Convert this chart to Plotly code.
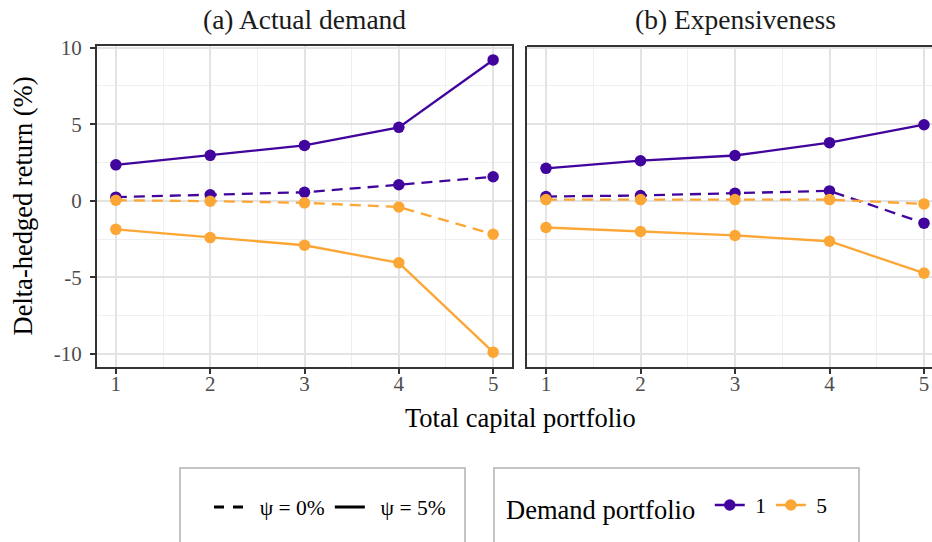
import plotly.graph_objects as go

# ---- data ----
capital = [1, 2, 3, 4, 5]
# Panel (a) Actual demand
a_d1_psi5 = [2.35, 2.97, 3.62, 4.80, 9.20]
a_d1_psi0 = [0.24, 0.39, 0.56, 1.05, 1.57]
a_d5_psi0 = [0.04, -0.02, -0.13, -0.40, -2.18]
a_d5_psi5 = [-1.86, -2.40, -2.90, -4.05, -9.88]
# Panel (b) Expensiveness
b_d1_psi5 = [2.12, 2.62, 2.96, 3.80, 4.97]
b_d1_psi0 = [0.28, 0.35, 0.50, 0.65, -1.46]
b_d5_psi0 = [0.08, 0.08, 0.08, 0.08, -0.20]
b_d5_psi5 = [-1.74, -2.00, -2.26, -2.64, -4.72]

panel_titles = ["(a) Actual demand", "(b) Expensiveness"]
demand_labels = ["1", "5"]
psi_labels = ["ψ = 0%", "ψ = 5%"]
y_ticks = [-10, -5, 0, 5, 10]
y_minor = [-7.5, -2.5, 2.5, 7.5]
x_minor = [1.5, 2.5, 3.5, 4.5]

PURPLE = "#41049d"
ORANGE = "#fca636"
FONT = "Liberation Serif"
DASH = "11px,7px"
NB = "\u00a0"

fig = go.Figure()

def add_panel(xa, ya, d1_0, d1_5, d5_0, d5_5, show):
    for ys, col, dash, name, leg in [
        (d1_0, PURPLE, DASH, demand_labels[0], False),
        (d5_0, ORANGE, DASH, demand_labels[1], False),
        (d1_5, PURPLE, "solid", demand_labels[0], show),
        (d5_5, ORANGE, "solid", demand_labels[1], show),
    ]:
        fig.add_trace(go.Scatter(
            x=capital, y=ys, mode="lines+markers", name=NB + name,
            line=dict(color=col, width=2.3, dash=dash),
            marker=dict(color=col, size=11.5),
            xaxis=xa, yaxis=ya, showlegend=leg, legend="legend2",
            cliponaxis=False,
        ))

add_panel("x", "y", a_d1_psi0, a_d1_psi5, a_d5_psi0, a_d5_psi5, True)
add_panel("x2", "y2", b_d1_psi0, b_d1_psi5, b_d5_psi0, b_d5_psi5, False)

# psi legend (line-type) entries
for lab, dash in zip(psi_labels, ["10px,9px", "solid"]):
    fig.add_trace(go.Scatter(
        x=[None], y=[None], mode="lines", name=NB * 2 + lab,
        line=dict(color="black", width=2.8, dash=dash),
        legend="legend", showlegend=True,
    ))

W, H = 932, 542
L, R, T, B = 97, 0, 46, 175
PW = W - L - R
PH = H - T - B

def px_x(p):
    return (p - L) / PW

def px_y(p):
    return (H - B - p) / PH

grid_major = "#e3e3e3"
grid_minor = "#efefef"
axcol = "#333333"
tickfont = dict(family=FONT, size=21, color="#4d4d4d")

common_x = dict(
    tickvals=capital, ticktext=[str(c) for c in capital],
    showgrid=True, gridcolor=grid_major, gridwidth=2,
    minor=dict(tickvals=x_minor, showgrid=True, gridcolor=grid_minor, gridwidth=1, ticks=""),
    ticks="outside", ticklen=5, tickwidth=1.6, tickcolor=axcol,
    tickfont=tickfont, showline=True, linecolor=axcol, linewidth=2,
    mirror=True, zeroline=False, ticklabelstandoff=-8,
)
common_y = dict(
    range=[-10.85, 10.11], tickvals=y_ticks,
    ticktext=[str(v) for v in y_ticks],
    showgrid=True, gridcolor=grid_major, gridwidth=2,
    minor=dict(tickvals=y_minor, showgrid=True, gridcolor=grid_minor, gridwidth=1, ticks=""),
    zeroline=False, showline=True, linecolor=axcol, linewidth=2,
    tickfont=tickfont,
)

fig.update_layout(
    width=W, height=H,
    margin=dict(l=L, r=R, t=T, b=B, pad=0),
    paper_bgcolor="white", plot_bgcolor="white",
    font=dict(family=FONT, color="black"),
    xaxis=dict(common_x, domain=[0, px_x(512)], range=[0.8, 5.2], anchor="y"),
    xaxis2=dict(common_x, domain=[px_x(527), 1.0],
                range=[1 - 19 / 94.5, 1 + (W - 546) / 94.5], anchor="y2", mirror=False),
    yaxis=dict(common_y, anchor="x", mirror=True, ticks="outside", ticklen=5,
               tickwidth=1.6, tickcolor=axcol, ticklabelstandoff=4),
    yaxis2=dict(common_y, anchor="x2", mirror=False, ticks="", showticklabels=False,
                matches="y"),
    legend=dict(
        orientation="h", x=px_x(209), y=px_y(507), xanchor="left", yanchor="middle",
        bgcolor="rgba(0,0,0,0)", font=dict(family=FONT, size=21.5, color="black"),
        itemwidth=30, traceorder="normal",
    ),
    legend2=dict(
        orientation="h", x=px_x(504), y=px_y(507), xanchor="left", yanchor="middle",
        bgcolor="rgba(0,0,0,0)", font=dict(family=FONT, size=21.5, color="black"),
        title=dict(text="Demand portfolio" + NB, side="left",
                   font=dict(family=FONT, size=26.5, color="black")),
        itemwidth=30, traceorder="normal",
    ),
    showlegend=True,
)

# top border line for panel b (no right edge, as the panel runs off the page)
fig.add_shape(type="line", xref="paper", yref="paper",
              x0=px_x(527), x1=1.0, y0=1, y1=1,
              line=dict(color=axcol, width=2))

# legend boxes
for x0, x1 in [(180, 465), (494, 859)]:
    fig.add_shape(type="rect", xref="paper", yref="paper",
                  x0=px_x(x0), x1=px_x(x1), y0=px_y(468), y1=px_y(600),
                  line=dict(color="#c4c4c4", width=2), fillcolor="rgba(0,0,0,0)",
                  layer="below")

# panel titles
for t, cx in zip(panel_titles, [304.5, 735]):
    fig.add_annotation(text=t, xref="paper", yref="paper", x=px_x(cx), y=px_y(20),
                       xanchor="center", yanchor="middle", showarrow=False,
                       font=dict(family=FONT, size=27.5, color="#1a1a1a"))

# axis titles
fig.add_annotation(text="Total capital portfolio", xref="paper", yref="paper",
                   x=px_x(520), y=px_y(418), xanchor="center", yanchor="middle",
                   showarrow=False, font=dict(family=FONT, size=26.5, color="black"))
fig.add_annotation(text="Delta-hedged return (%)", xref="paper", yref="paper",
                   x=px_x(22), y=0.5, xanchor="center", yanchor="middle",
                   textangle=-90, showarrow=False,
                   font=dict(family=FONT, size=26.5, color="black"))

fig.write_html(
    "out.html",
    config={"displayModeBar": False},
    post_script="document.body.style.margin='0';document.body.style.overflow='hidden';",
)
